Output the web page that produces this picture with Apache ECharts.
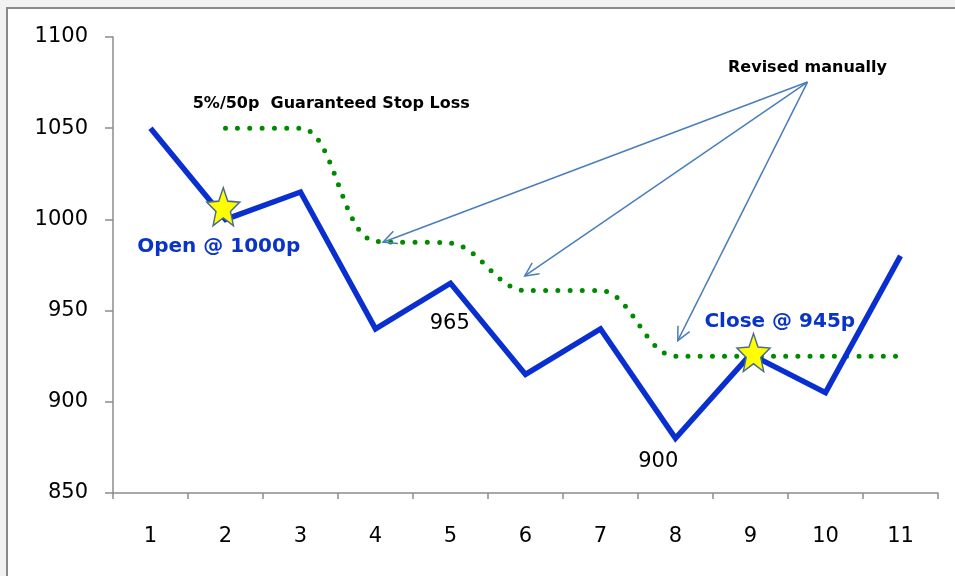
<!DOCTYPE html>
<html>
<head>
<meta charset="utf-8">
<script src="https://cdn.jsdelivr.net/npm/echarts@6/dist/echarts.min.js"></script>
<style>
  html, body { margin: 0; padding: 0; background: #f2f2f2; }
  #wrap { position: relative; width: 955px; height: 576px; background: #f2f2f2; overflow: hidden; }
  #frame { position: absolute; left: 6px; top: 7px; width: 949px; height: 569px; border-left: 2px solid #8a8a8a; border-top: 2px solid #8a8a8a; background: #fff; }
  #chart { position: absolute; left: 0; top: 0; width: 947px; height: 567px; }
</style>
</head>
<body>
<div id="wrap"><div id="frame"><div id="chart"></div></div></div>
<script>
// ---- data ----
const categories = ['1','2','3','4','5','6','7','8','9','10','11'];
const priceValues = [1050, 1000, 1015, 940, 965, 915, 940, 880, 926, 905, 980];
const stopValues  = [null, 1050, 1050, 988, 987, 961, 961, 925, 925, 925, 925];
const yTicks = { min: 850, max: 1100, step: 50 };

// stars (x in category units, y in price units)
const starPoints = [[1.97, 1007], [9.04, 927]];

// annotation texts and anchors (x in category units, y in price units)
const stopLabelTexts = ['Open @ 1000p', 'Close @ 945p'];
const stopLabelAnchors = [[1.91, 985], [9.39, 944]];
const valueLabelTexts = ['965', '900'];
const valueLabelAnchors = [[4.99, 943], [7.77, 867.5]];
const noteTexts = ['5%/50p  Guaranteed Stop Loss', 'Revised manually'];
const noteAnchors = [[3.41, 1063.5], [9.76, 1083]];

// arrows: common origin, several tips
const arrowOrigin = [9.76, 1075.3];
const arrowTips = [[4.1, 987.5], [5.99, 969], [8.03, 933.5]];

// ---- chart ----
const chart = echarts.init(document.getElementById('chart'), null, { renderer: 'canvas' });

const starPath = 'path://M100,0 L125.9,64.4 L195.1,69.1 L141.8,113.6 L158.8,180.9 L100,144 L41.2,180.9 L58.2,113.6 L4.9,69.1 L74.1,64.4 Z';

function labelData(texts, anchors) {
  return texts.map((t, i) => ({ value: anchors[i], name: t }));
}

const arrowData = arrowTips.map(t => [arrowOrigin[0], arrowOrigin[1], t[0], t[1]]);

const option = {
  animation: false,
  backgroundColor: '#ffffff',
  grid: { left: 105, right: 17, top: 28, bottom: 83, containLabel: false },
  xAxis: [
    {
      type: 'category',
      data: categories,
      boundaryGap: true,
      axisLine: { lineStyle: { color: '#8c8c8c', width: 1.5 } },
      axisTick: { show: true, length: 6, lineStyle: { color: '#8c8c8c', width: 1.5 } },
      axisLabel: { color: '#000', fontSize: 21, fontFamily: 'DejaVu Sans', margin: 33 },
      splitLine: { show: false }
    },
    {
      type: 'value', min: 0.5, max: 11.5, show: false
    }
  ],
  yAxis: {
    type: 'value',
    min: yTicks.min, max: yTicks.max, interval: yTicks.step,
    axisLine: { show: true, lineStyle: { color: '#8c8c8c', width: 1.5 } },
    axisTick: { show: true, length: 8, lineStyle: { color: '#8c8c8c', width: 1.5 } },
    axisLabel: { color: '#000', fontSize: 21, fontFamily: 'DejaVu Sans', margin: 25, formatter: v => String(v) },
    splitLine: { show: false }
  },
  series: [
    {
      type: 'line',
      data: stopValues,
      xAxisIndex: 0,
      smooth: 0.35,
      showSymbol: false,
      symbol: 'none',
      connectNulls: false,
      lineStyle: { color: '#008a00', width: 5, type: [0, 12.2], cap: 'round' },
      z: 2
    },
    {
      type: 'line',
      data: priceValues,
      xAxisIndex: 0,
      showSymbol: false,
      symbol: 'none',
      lineStyle: { color: '#0a2fd0', width: 5.5, join: 'miter' },
      z: 3
    },
    {
      type: 'custom',
      xAxisIndex: 1,
      data: arrowData,
      encode: { x: [0, 2], y: [1, 3] },
      renderItem: function (params, api) {
        const p0 = api.coord([api.value(0), api.value(1)]);
        const p1 = api.coord([api.value(2), api.value(3)]);
        const ang = Math.atan2(p1[1] - p0[1], p1[0] - p0[0]);
        const L = 15, a = 0.45;
        const b1 = [p1[0] - L * Math.cos(ang - a), p1[1] - L * Math.sin(ang - a)];
        const b2 = [p1[0] - L * Math.cos(ang + a), p1[1] - L * Math.sin(ang + a)];
        const st = { stroke: '#4a7ebb', lineWidth: 1.5, fill: null };
        return {
          type: 'group',
          children: [
            { type: 'line', shape: { x1: p0[0], y1: p0[1], x2: p1[0], y2: p1[1] }, style: st },
            { type: 'polyline', shape: { points: [b1, p1, b2] }, style: st }
          ]
        };
      },
      z: 4
    },
    {
      type: 'scatter',
      xAxisIndex: 1,
      data: starPoints,
      symbol: starPath,
      symbolSize: [33, 38],
      itemStyle: { color: '#ffff00', borderColor: '#4b6a8c', borderWidth: 1.5, opacity: 1 },
      z: 5
    },
    {
      type: 'scatter',
      xAxisIndex: 1,
      data: labelData(stopLabelTexts, stopLabelAnchors),
      symbolSize: 0,
      itemStyle: { opacity: 1 },
      label: { show: true, position: 'inside', formatter: p => p.name, color: '#0a34c8', fontSize: 20, fontWeight: 'bold', fontFamily: 'DejaVu Sans', textBorderWidth: 0 },
      z: 6
    },
    {
      type: 'scatter',
      xAxisIndex: 1,
      data: labelData(valueLabelTexts, valueLabelAnchors),
      symbolSize: 0,
      itemStyle: { opacity: 1 },
      label: { show: true, position: 'inside', formatter: p => p.name, color: '#000', fontSize: 21, fontFamily: 'DejaVu Sans', textBorderWidth: 0 },
      z: 6
    },
    {
      type: 'scatter',
      xAxisIndex: 1,
      data: labelData(noteTexts, noteAnchors),
      symbolSize: 0,
      itemStyle: { opacity: 1 },
      label: { show: true, position: 'inside', formatter: p => p.name, color: '#000', fontSize: 16, fontWeight: 'bold', fontFamily: 'DejaVu Sans', textBorderWidth: 0 },
      z: 6
    }
  ]
};
chart.setOption(option);
</script>
</body>
</html>
